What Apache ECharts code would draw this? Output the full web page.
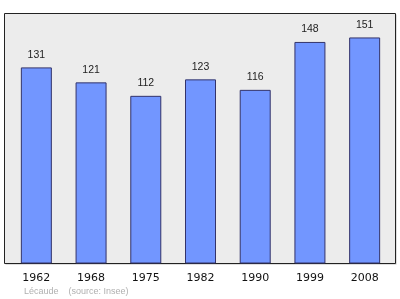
<!DOCTYPE html>
<html><head><meta charset="utf-8">
<script src="https://cdn.jsdelivr.net/npm/echarts@6/dist/echarts.min.js"></script>
<style>html,body{margin:0;padding:0;background:#fff}#c{width:400px;height:299px}</style>
</head><body><div id="c"></div>
<script>
var years = ['1962','1968','1975','1982','1990','1999','2008'];
var population = [131,121,112,123,116,148,151];
var sourceText = 'Lécaude    (source: Insee)';

var chart = echarts.init(document.getElementById('c'), null, {renderer:'canvas'});
chart.setOption({
  animation:false,
  backgroundColor:'#ffffff',
  graphic:[
    {type:'rect', z:-2, shape:{x:5.5,y:14.5,width:391,height:250}, style:{fill:'#bdbdbd'}},
    {type:'rect', z:-1, shape:{x:4.5,y:13.5,width:391,height:250}, style:{fill:'#ececec', stroke:'#222', lineWidth:1}},
    {type:'text', left:24, top:287, style:{text:sourceText, fill:'#b0b0b0', font:'9px "Liberation Sans", sans-serif'}}
  ],
  grid:{left:9, right:8, top:13.5, bottom:35.5, containLabel:false},
  xAxis:{type:'category', data:years,
    axisLine:{show:true, lineStyle:{color:'#222', width:1}},
    axisTick:{show:false},
    axisLabel:{color:'#111', fontSize:11, margin:9, fontFamily:'"DejaVu Sans", sans-serif'}},
  yAxis:{type:'value', min:0, max:167, show:false, splitLine:{show:false}},
  series:[{type:'bar', data:population, barWidth:31,
    itemStyle:{color:'#7296ff', borderColor:'#33336a', borderWidth:1},
    label:{show:true, position:'top', distance:7, color:'#222', fontSize:10.5, fontFamily:'"Liberation Sans", sans-serif'}}]
});
</script></body></html>
